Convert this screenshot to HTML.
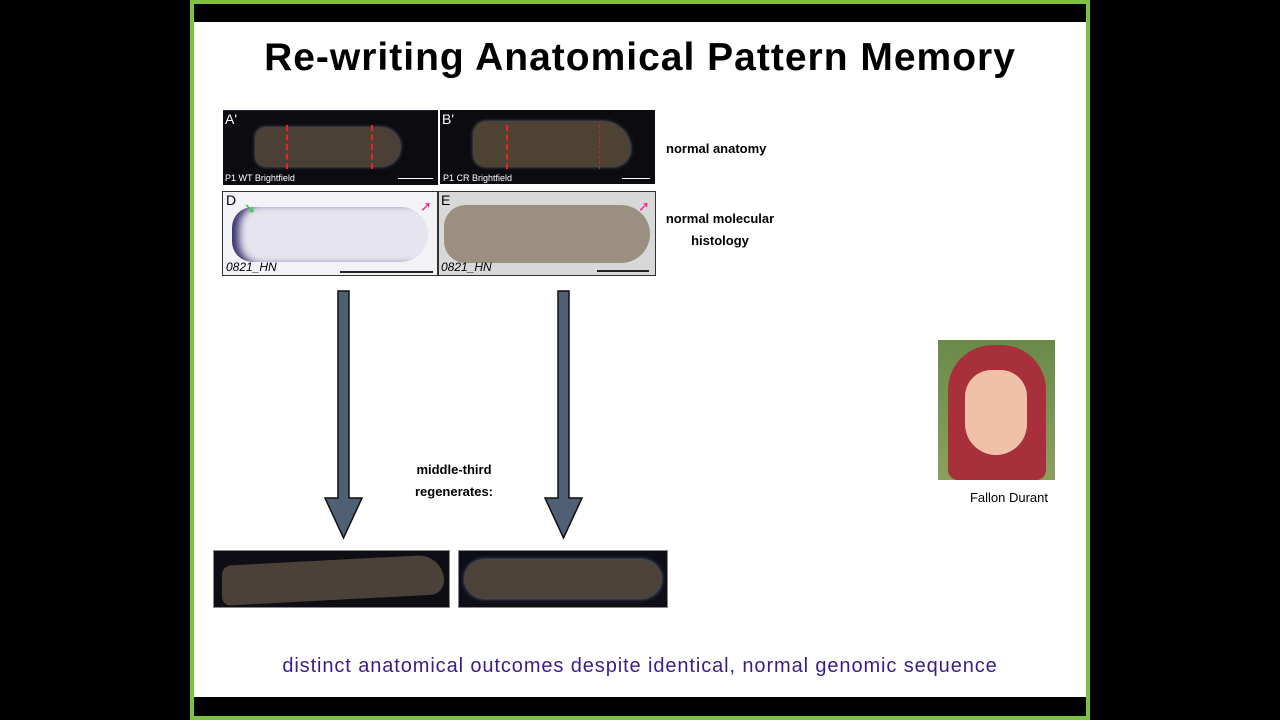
<!DOCTYPE html>
<html><head><style>
body{margin:0;width:1280px;height:720px;background:#000;position:relative;overflow:hidden;font-family:"Liberation Sans",sans-serif}
.a{position:absolute}
.t{font-family:"Liberation Sans",sans-serif}
</style></head><body>
<div class="a" style="left:190px;top:0;width:900px;height:720px;background:#7fc241"></div>
<div class="a" style="left:194px;top:4px;width:892px;height:712px;background:#000"></div>
<div class="a" style="left:194px;top:22px;width:892px;height:675px;background:#fff"></div>
<div class="a t" style="left:194px;top:36px;width:892px;text-align:center;font-size:39px;font-weight:bold;color:#000;letter-spacing:1px">Re-writing Anatomical Pattern Memory</div>

<div class="a" style="left:223px;top:110px;width:215px;height:74px;background:#0c0c10;border-top:1px solid #223"></div>
<div class="a" style="left:256px;top:128px;width:144px;height:38px;border-radius:20px 40px 40px 20px;background:#4a4036;box-shadow:0 0 4px #999"></div>
<div class="a" style="left:286px;top:125px;height:44px;border-left:2px dashed #e22"></div>
<div class="a" style="left:371px;top:125px;height:44px;border-left:2px dashed #e22"></div>
<div class="a t" style="left:225px;top:111px;color:#fff;font-size:14px">A'</div>
<div class="a t" style="left:225px;top:173px;color:#fff;font-size:9px">P1 WT Brightfield</div>
<div class="a" style="left:398px;top:178px;width:35px;height:1px;background:#fff"></div>

<div class="a" style="left:440px;top:110px;width:215px;height:74px;background:#0c0c10"></div>
<div class="a" style="left:474px;top:122px;width:156px;height:44px;border-radius:22px 50px 30px 20px;background:#4e4233;box-shadow:0 0 4px #999"></div>
<div class="a" style="left:506px;top:125px;height:44px;border-left:2px dashed #e22"></div>
<div class="a" style="left:599px;top:125px;height:44px;border-left:1px dashed #c22"></div>
<div class="a t" style="left:442px;top:111px;color:#fff;font-size:14px">B'</div>
<div class="a t" style="left:443px;top:173px;color:#fff;font-size:9px">P1 CR Brightfield</div>
<div class="a" style="left:622px;top:178px;width:28px;height:1px;background:#fff"></div>

<div class="a" style="left:222px;top:191px;width:214px;height:83px;background:#f3f2f6;border:1px solid #333;overflow:hidden">
<div class="a" style="left:9px;top:15px;width:196px;height:55px;border-radius:30px 40px 40px 30px;background:#e6e4ee;box-shadow:inset 10px 0 8px -3px #3a3570"></div>
</div>
<div class="a t" style="left:226px;top:192px;font-size:14px">D</div>
<div class="a t" style="left:226px;top:260px;font-size:12px;font-style:italic">0821_HN</div>
<div class="a" style="left:340px;top:271px;width:93px;height:2px;background:#222"></div>
<div class="a" style="left:438px;top:191px;width:216px;height:83px;background:#d8d8d8;border:1px solid #333"></div>
<div class="a" style="left:444px;top:205px;width:206px;height:58px;border-radius:30px 40px 40px 30px;background:#9a8f80"></div>
<div class="a t" style="left:441px;top:192px;font-size:14px">E</div>
<div class="a t" style="left:441px;top:260px;font-size:12px;font-style:italic">0821_HN</div>
<div class="a" style="left:597px;top:270px;width:52px;height:2px;background:#222"></div>
<div class="a" style="left:244px;top:200px;color:#3c3;font-size:14px">➘</div>
<div class="a" style="left:420px;top:198px;color:#e28;font-size:14px">➚</div>
<div class="a" style="left:638px;top:198px;color:#e28;font-size:14px">➚</div>

<div class="a" style="left:666px;top:141px;font-size:13px;font-weight:bold">normal anatomy</div>
<div class="a" style="left:660px;top:208px;width:120px;text-align:center;font-size:13px;font-weight:bold;line-height:22px">normal molecular histology</div>

<svg class="a" style="left:0;top:0" width="1280" height="720">
<g fill="#4f6075" stroke="#111" stroke-width="1.5">
<polygon points="338,291 349,291 349,498 362,498 343.5,538 325,498 338,498"/>
<polygon points="558,291 569,291 569,498 582,498 563.5,538 545,498 558,498"/>
</g></svg>
<div class="a" style="left:400px;top:459px;width:108px;text-align:center;font-size:13px;font-weight:bold;line-height:22px">middle-third regenerates:</div>

<div class="a" style="left:213px;top:550px;width:235px;height:56px;background:#0e0e14;border:1px solid #888"></div>
<div class="a" style="left:222px;top:560px;width:222px;height:40px;border-radius:20px 60px 30px 20px;background:#4a4238;transform:skewY(-3deg)"></div>
<div class="a" style="left:458px;top:550px;width:208px;height:56px;background:#0e0e18;border:1px solid #888"></div>
<div class="a" style="left:465px;top:560px;width:196px;height:38px;border-radius:20px;background:#4c4238;box-shadow:0 0 5px #99a"></div>

<div class="a" style="left:938px;top:340px;width:117px;height:140px;background:linear-gradient(#6a8a4a,#8aa060)"></div>
<div class="a" style="left:948px;top:345px;width:98px;height:135px;border-radius:45px 45px 10px 10px;background:#a8303a"></div>
<div class="a" style="left:965px;top:370px;width:62px;height:85px;border-radius:30px 30px 35px 35px;background:#f0c0a8"></div>
<div class="a t" style="left:938px;top:490px;width:142px;text-align:center;font-size:13px">Fallon Durant</div>

<div class="a" style="left:194px;top:655px;width:892px;text-align:center;font-size:20px;color:#3a1d8a;letter-spacing:0.9px;white-space:nowrap">distinct anatomical outcomes despite identical, normal genomic sequence</div>
</body></html>
